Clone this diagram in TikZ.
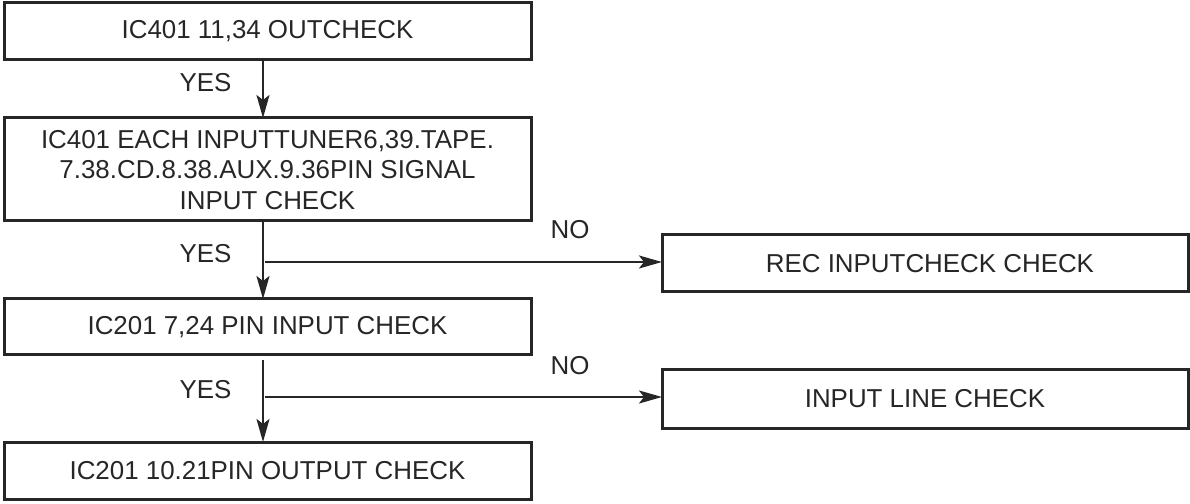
\documentclass[tikz,border=0pt]{standalone}
\usepackage{fontspec}
\setmainfont{Liberation Sans}
\usetikzlibrary{arrows.meta}
\begin{document}
\begin{tikzpicture}[x=1bp,y=-1bp,
  box/.style={draw=black!85, line width=3bp, inner sep=0pt},
  lbl/.style={font=\fontsize{26}{31}\selectfont, text=black!85, inner sep=0pt},
  arr/.style={draw=black!85, line width=2.2bp, -{Stealth[length=23bp,width=13bp,inset=5bp]}}]
\useasboundingbox (0,0) rectangle (1190,504);
\draw[box] (4,3) rectangle (531,60);
\node[lbl] (b1) at (267.5,31.5) {IC401 11,34 OUTCHECK};
\coordinate (b1s) at (263,60);
\draw[box] (4,118) rectangle (531,221);
\node[lbl, align=center] (b2) at (267.5,170) {IC401 EACH INPUTTUNER6,39.TAPE.\\7.38.CD.8.38.AUX.9.36PIN SIGNAL\\INPUT CHECK};
\coordinate (b2n) at (263,118);
\coordinate (b2s) at (263,221);
\draw[box] (662,235) rectangle (1188,292);
\node[lbl] (r1) at (930,264) {REC INPUTCHECK CHECK};
\coordinate (r1w) at (662,262);
\draw[box] (4,299) rectangle (531,355);
\node[lbl] (b3) at (267.5,327) {IC201 7,24 PIN INPUT CHECK};
\coordinate (b3n) at (263,299);
\coordinate (b3s) at (263,360);
\draw[box] (662,370) rectangle (1188,428);
\node[lbl] (r2) at (925,399) {INPUT LINE CHECK};
\coordinate (r2w) at (662,397);
\draw[box] (4,442) rectangle (531,499);
\node[lbl] (b4) at (267.5,470.5) {IC201 10.21PIN OUTPUT CHECK};
\coordinate (b4n) at (263,442);
\coordinate (j1) at (265,262);
\coordinate (j2) at (265,397);
\draw[arr] (b1s) -- (b2n);
\draw[arr] (b2s) -- (b3n);
\draw[arr] (b3s) -- (b4n);
\draw[arr] (j1) -- (r1w);
\draw[arr] (j2) -- (r2w);
\node[lbl] (y1) at (205.5,83) {YES};
\node[lbl] (y2) at (205.5,253.5) {YES};
\node[lbl] (y3) at (205.5,390) {YES};
\node[lbl] (n1) at (570,229.5) {NO};
\node[lbl] (n2) at (570,366) {NO};
\end{tikzpicture}
\end{document}
